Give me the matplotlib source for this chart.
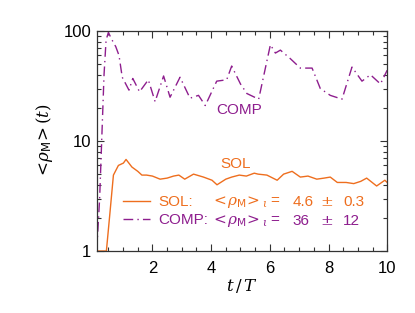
import matplotlib
matplotlib.use('Agg')
import matplotlib.pyplot as plt
from matplotlib.ticker import FixedLocator, LogLocator, NullFormatter, FixedFormatter

plt.rcParams['font.family'] = ['Liberation Sans', 'DejaVu Sans']
plt.rcParams['mathtext.fontset'] = 'dejavuserif'

ORANGE = '#EE6E1E'
PURPLE = '#8E1E8E'

# time in units of T
t_sol = [0.1, 0.25, 0.43, 0.55, 0.67, 0.84, 1.01, 1.1, 1.3, 1.5, 1.64, 1.8, 2.0,
         2.26, 2.5, 2.72, 2.9, 3.1, 3.4, 3.74, 4.03, 4.2, 4.5, 4.7, 4.96, 5.2,
         5.47, 5.6, 5.9, 6.25, 6.47, 6.76, 7.04, 7.3, 7.6, 7.85, 8.06, 8.3, 8.6,
         8.86, 9.1, 9.3, 9.64, 9.92, 10.0]
rho_sol = [1.0, 1.0, 1.0, 2.2, 4.9, 6.0, 6.3, 6.8, 5.8, 5.3, 4.9, 4.9, 4.8,
           4.5, 4.6, 4.8, 4.9, 4.5, 5.0, 4.7, 4.4, 4.0, 4.5, 4.7, 4.9, 4.8,
           5.1, 5.0, 4.9, 4.4, 5.0, 5.3, 4.7, 4.8, 4.5, 4.6, 4.7, 4.2, 4.2,
           4.1, 4.3, 4.6, 3.9, 4.4, 4.2]

t_comp = [0.1, 0.2, 0.27, 0.35, 0.42, 0.5, 0.6, 0.75, 0.86, 0.97, 1.2, 1.33,
          1.56, 1.86, 2.09, 2.38, 2.6, 2.94, 3.28, 3.57, 3.8, 4.19, 4.53, 4.7,
          5.0, 5.22, 5.62, 6.02, 6.19, 6.36, 6.7, 7.04, 7.44, 7.72, 8.06, 8.46,
          8.8, 9.14, 9.43, 9.77, 10.0]
rho_comp = [1.0, 3.0, 10.0, 40.0, 83.0, 97.0, 85.0, 72.0, 60.0, 38.0, 29.0, 37.0,
            28.0, 36.0, 22.8, 39.0, 25.0, 38.0, 24.5, 26.0, 21.0, 35.0, 36.0, 48.0,
            33.0, 27.0, 24.0, 75.0, 63.0, 67.0, 56.0, 46.0, 46.0, 30.0, 26.0, 24.0,
            47.0, 35.0, 40.0, 33.0, 44.0]

x_ticks = [2, 4, 6, 8, 10]
y_ticks = [1, 10, 100]
y_tick_labels = ['1', '10', '100']

legend_names = ['SOL:', 'COMP:']
legend_means = ['4.6', '36']
legend_errs = ['0.3', '12']

FS = 11


def main():
    fig = plt.figure(figsize=(4.15, 3.13), dpi=100)
    ax = fig.add_axes([0.233, 0.198, 0.700, 0.703])

    l_sol, = ax.plot(t_sol, rho_sol, color=ORANGE, lw=1.0)
    l_comp, = ax.plot(t_comp, rho_comp, color=PURPLE, lw=1.0,
                      dashes=(7, 3, 1, 3))

    ax.set_yscale('log')
    ax.set_xlim(0.1, 10)
    ax.set_ylim(1, 100)

    ax.xaxis.set_major_locator(FixedLocator(x_ticks))
    ax.xaxis.set_minor_locator(FixedLocator([0.5 * i for i in range(1, 20)]))
    ax.yaxis.set_major_locator(FixedLocator(y_ticks))
    ax.yaxis.set_major_formatter(FixedFormatter(y_tick_labels))
    ax.yaxis.set_minor_locator(LogLocator(base=10, subs=range(2, 10)))
    ax.yaxis.set_minor_formatter(NullFormatter())

    ax.tick_params(which='both', direction='in', top=True, right=True,
                   labelsize=12, colors='#333333', labelcolor='black', width=0.8)
    ax.tick_params(which='major', length=5)
    ax.tick_params(axis='x', which='major', pad=7)
    ax.tick_params(axis='y', which='major', pad=4)
    ax.tick_params(which='minor', length=3)
    for s in ax.spines.values():
        s.set_linewidth(0.9)
        s.set_color('#333333')

    ax.set_xlabel(r'$t\,/\,T$', fontsize=12, labelpad=1)
    ax.set_ylabel(r'$<\!\rho_{\mathsf{M}}\!>(t)$', fontsize=12, labelpad=6)

    ax.text(4.95, 19, 'COMP', color=PURPLE, fontsize=FS, ha='center', va='center')
    ax.text(4.85, 6.2, 'SOL', color=ORANGE, fontsize=FS, ha='center', va='center')

    leg = ax.legend([l_sol, l_comp], legend_names, loc='center left',
                    bbox_to_anchor=(0.09, 0.181), frameon=False, fontsize=FS,
                    handlelength=1.8, handletextpad=0.55, labelspacing=0.25,
                    borderaxespad=0, borderpad=0)
    for txt, c in zip(leg.get_texts(), [ORANGE, PURPLE]):
        txt.set_color(c)

    rows_y = [0.224, 0.138]
    colors = [ORANGE, PURPLE]
    for yy, m, e, c in zip(rows_y, legend_means, legend_errs, colors):
        ax.text(0.395, yy, r'$<\!\rho_{\mathsf{M}}\!>_{\iota}$ =', color=c, fontsize=FS,
                transform=ax.transAxes, va='center', ha='left')
        ax.text(0.675, yy, m, color=c, fontsize=FS, transform=ax.transAxes,
                va='center', ha='left')
        ax.text(0.767, yy, r'$\pm$', color=c, fontsize=FS,
                transform=ax.transAxes, va='center', ha='left')
        ax.text(0.848, yy, e, color=c, fontsize=FS,
                transform=ax.transAxes, va='center', ha='left')

    fig.savefig('out.png', dpi=100)


if __name__ == '__main__':
    main()
